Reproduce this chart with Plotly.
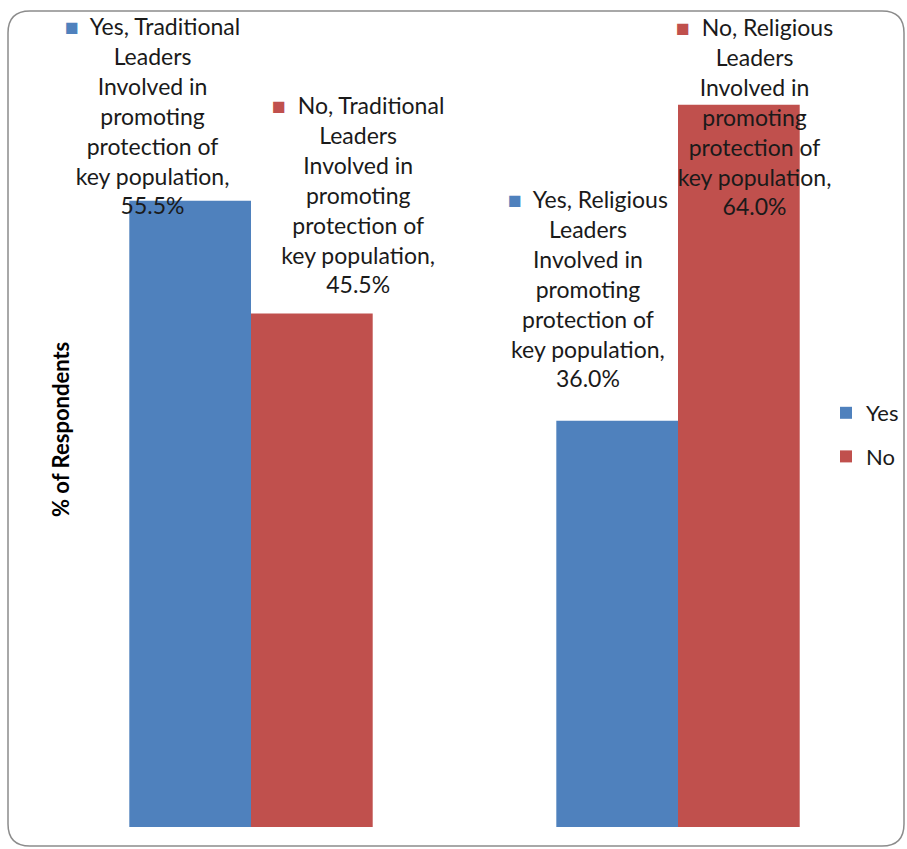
import plotly.graph_objects as go

categories = ["Traditional Leaders", "Religious Leaders"]
series_names = ["Yes", "No"]
yes_values = [55.5, 36.0]
no_values = [45.5, 64.0]
colors = {"Yes": "#4F81BD", "No": "#C0504D"}

W, H = 907, 849
ML, MR, MT, MB = 80, 5, 37, 22
PW = W - ML - MR
PH = H - MT - MB
FONT = "Lato"


def px2paper_x(px):
    return (px - ML) / PW


def px2paper_y(py):
    return (H - MB - py) / PH


fig = go.Figure()
for name, vals in (("Yes", yes_values), ("No", no_values)):
    fig.add_trace(go.Bar(
        x=list(range(len(categories))), y=vals, name=name,
        marker=dict(color=colors[name], line=dict(width=0)),
        legendgroup=name, hoverinfo="skip",
    ))

# data labels (Excel style with legend key)
label_offsets = {  # (category index, series) -> (xshift px, yshift px)
    (0, "Yes"): (-38, -20),
    (0, "No"): (46, 14),
    (1, "Yes"): (-29, 27),
    (1, "No"): (16, -117),
}
bar_off = {"Yes": -0.1425, "No": 0.1425}
for name, vals in (("Yes", yes_values), ("No", no_values)):
    for i, v in enumerate(vals):
        short = categories[i].split()[0]
        txt = (f"<span style='color:{colors[name]};font-size:23px'>■</span>  {name}, {short}<br>"
               f"Leaders<br>Involved in<br>promoting<br>protection of<br>key population,<br>{v:.1f}%")
        xs, ys = label_offsets[(i, name)]
        fig.add_annotation(
            x=i + bar_off[name], y=v, xref="x", yref="y", text=txt,
            showarrow=False, xanchor="center", yanchor="bottom", align="center",
            xshift=xs, yshift=ys, font=dict(family=FONT, size=23, color="#1a1a1a"),
        )

# y-axis title
fig.add_annotation(
    x=px2paper_x(60), y=px2paper_y(430), xref="paper", yref="paper",
    text="<b>% of Respondents</b>", textangle=-90, showarrow=False,
    xanchor="center", yanchor="middle", font=dict(family=FONT, size=22, color="#000"),
)

# outer rounded frame
x0, x1, y0, y1, r = 8, 904, 11, 846, 22
X = px2paper_x
Y = px2paper_y
path = (f"M {X(x0 + r)},{Y(y0)} L {X(x1 - r)},{Y(y0)} Q {X(x1)},{Y(y0)} {X(x1)},{Y(y0 + r)} "
        f"L {X(x1)},{Y(y1 - r)} Q {X(x1)},{Y(y1)} {X(x1 - r)},{Y(y1)} "
        f"L {X(x0 + r)},{Y(y1)} Q {X(x0)},{Y(y1)} {X(x0)},{Y(y1 - r)} "
        f"L {X(x0)},{Y(y0 + r)} Q {X(x0)},{Y(y0)} {X(x0 + r)},{Y(y0)} Z")
fig.add_shape(type="path", path=path, xref="paper", yref="paper",
              line=dict(color="#8c8c8c", width=1.5), layer="below")

fig.update_layout(
    width=W, height=H,
    margin=dict(l=ML, r=MR, t=MT, b=MB, autoexpand=False),
    paper_bgcolor="white", plot_bgcolor="white",
    barmode="group", bargap=0.43, bargroupgap=0,
    xaxis=dict(range=[(ML - 251) / 427, (W - MR - 251) / 427], visible=False, fixedrange=True),
    yaxis=dict(range=[0, 70], visible=False, fixedrange=True),
    showlegend=True,
    legend=dict(x=px2paper_x(826), y=px2paper_y(392), xanchor="left", yanchor="top",
                font=dict(family=FONT, size=22, color="#1a1a1a"),
                tracegroupgap=12, itemwidth=30, bgcolor="rgba(0,0,0,0)"),
    font=dict(family=FONT),
)

fig.write_html("out.html")
